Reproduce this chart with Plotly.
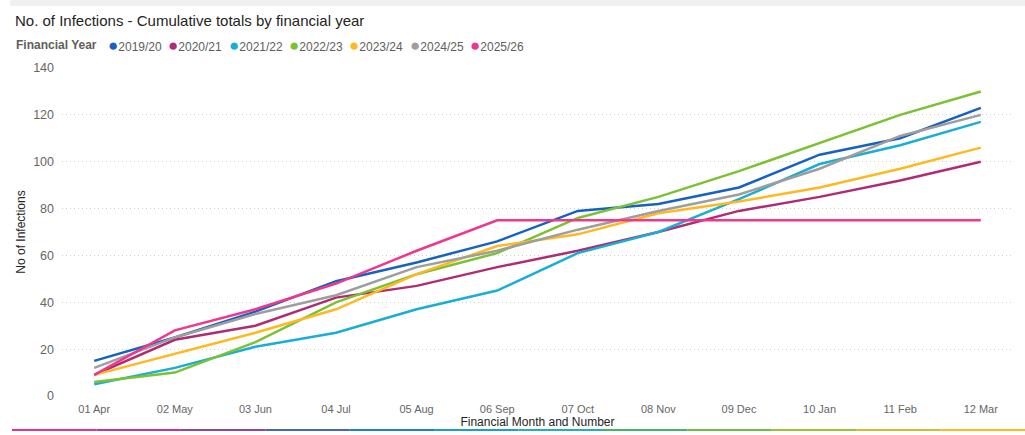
import plotly.graph_objects as go

months = ["01 Apr", "02 May", "03 Jun", "04 Jul", "05 Aug", "06 Sep",
          "07 Oct", "08 Nov", "09 Dec", "10 Jan", "11 Feb", "12 Mar"]

fy_2019_20 = [15, 25, 36, 49, 57, 66, 79, 82, 89, 103, 110, 123]
fy_2020_21 = [9, 24, 30, 42, 47, 55, 62, 70, 79, 85, 92, 100]
fy_2021_22 = [5, 12, 21, 27, 37, 45, 61, 70, 84, 99, 107, 117]
fy_2022_23 = [6, 10, 23, 40, 52, 61, 76, 85, 96, 108, 120, 130]
fy_2023_24 = [9, 18, 27, 37, 52, 64, 69, 78, 83, 89, 97, 106]
fy_2024_25 = [12, 25, 35, 43, 55, 62, 71, 79, 86, 97, 111, 120]
fy_2025_26 = [9, 28, 37, 48, 62, 75, 75, 75, 75, 75, 75, 75]

series = [
    ("2019/20", fy_2019_20, "#1562C0"),
    ("2020/21", fy_2020_21, "#B02C72"),
    ("2021/22", fy_2021_22, "#19AED5"),
    ("2022/23", fy_2022_23, "#7BC232"),
    ("2023/24", fy_2023_24, "#FFB820"),
    ("2024/25", fy_2024_25, "#9E9E9E"),
    ("2025/26", fy_2025_26, "#F0378E"),
]

FONT = "Liberation Sans, Arial, sans-serif"
GREY = "#666666"
W, H = 1025, 435
L, R, T, B = 62, 12, 68, 39
PW, PH = W - L - R, H - T - B


def px_x(px):
    return (px - L) / PW


def px_y(py):
    return (H - B - py) / PH


fig = go.Figure()
for name, vals, color in series:
    fig.add_trace(go.Scatter(x=months, y=vals, mode="lines", name=name,
                             line=dict(color=color, width=2.5)))

# legend row (dot + label), Power BI style
fig.add_annotation(text="<b>Financial Year</b>", xref="paper", yref="paper",
                   x=px_x(14), y=px_y(45), xanchor="left", yanchor="middle",
                   showarrow=False, font=dict(size=12, color="#605E5C"))
for i, (name, vals, color) in enumerate(series):
    fig.add_annotation(
        text=f"<span style='color:{color};font-size:17px'>●</span>{name}",
        xref="paper", yref="paper", x=px_x(106 + i * 60.3), y=px_y(45),
        xanchor="left", yanchor="middle", showarrow=False,
        font=dict(size=12, color="#605E5C"))

# coloured strip along the bottom edge
strip = ["#E8338A", "#C4358F", "#8E43A6", "#4A62C0", "#1E7FD0", "#1A9DD0",
         "#23AEB8", "#3FB56A", "#6BBE3C", "#9CC230", "#D2BE28", "#FFB820"]
n = len(strip)
x_start, x_end = px_x(12), px_x(1025)
step = (x_end - x_start) / n
for i, c in enumerate(strip):
    fig.add_shape(type="line", xref="paper", yref="paper",
                  x0=x_start + i * step, x1=x_start + (i + 1) * step,
                  y0=px_y(430), y1=px_y(430), line=dict(color=c, width=2))
# light grey band at the top
fig.add_shape(type="rect", xref="paper", yref="paper", x0=px_x(10),
              x1=px_x(1025), y0=px_y(6), y1=px_y(0), fillcolor="#F0F0F0",
              line_width=0, layer="below")

fig.update_layout(
    width=W, height=H,
    margin=dict(l=L, r=R, t=T, b=B),
    paper_bgcolor="white", plot_bgcolor="white",
    showlegend=False,
    font=dict(family=FONT, color=GREY, size=11),
    title=dict(text="No. of Infections - Cumulative totals by financial year",
               xref="container", yref="container", x=15 / W, xanchor="left",
               y=1 - 21 / H, yanchor="middle",
               font=dict(family=FONT, size=15, color="#252423")),
    xaxis=dict(type="category", range=[-0.4, 11.4], showgrid=False,
               showline=False, zeroline=False, ticks="", automargin=False,
               ticklabelstandoff=5, tickfont=dict(size=11, color=GREY),
               title=dict(text="Financial Month and Number", standoff=0,
                          font=dict(size=12, color="#252423"))),
    yaxis=dict(range=[0, 140], dtick=20, showgrid=True, gridcolor="#CFCFCF",
               griddash="1px,3px", gridwidth=1, zeroline=False,
               showline=False, ticks="", automargin=False,
               ticklabelstandoff=7, tickfont=dict(size=12.5, color=GREY),
               title=dict(text="No of Infections", standoff=4,
                          font=dict(size=12, color="#252423"))),
)

# the page body has an 8px default margin; remove it so the figure sits at 0,0
fig.write_html("out.html", config={"displayModeBar": False},
               post_script="document.body.style.margin='0';")
